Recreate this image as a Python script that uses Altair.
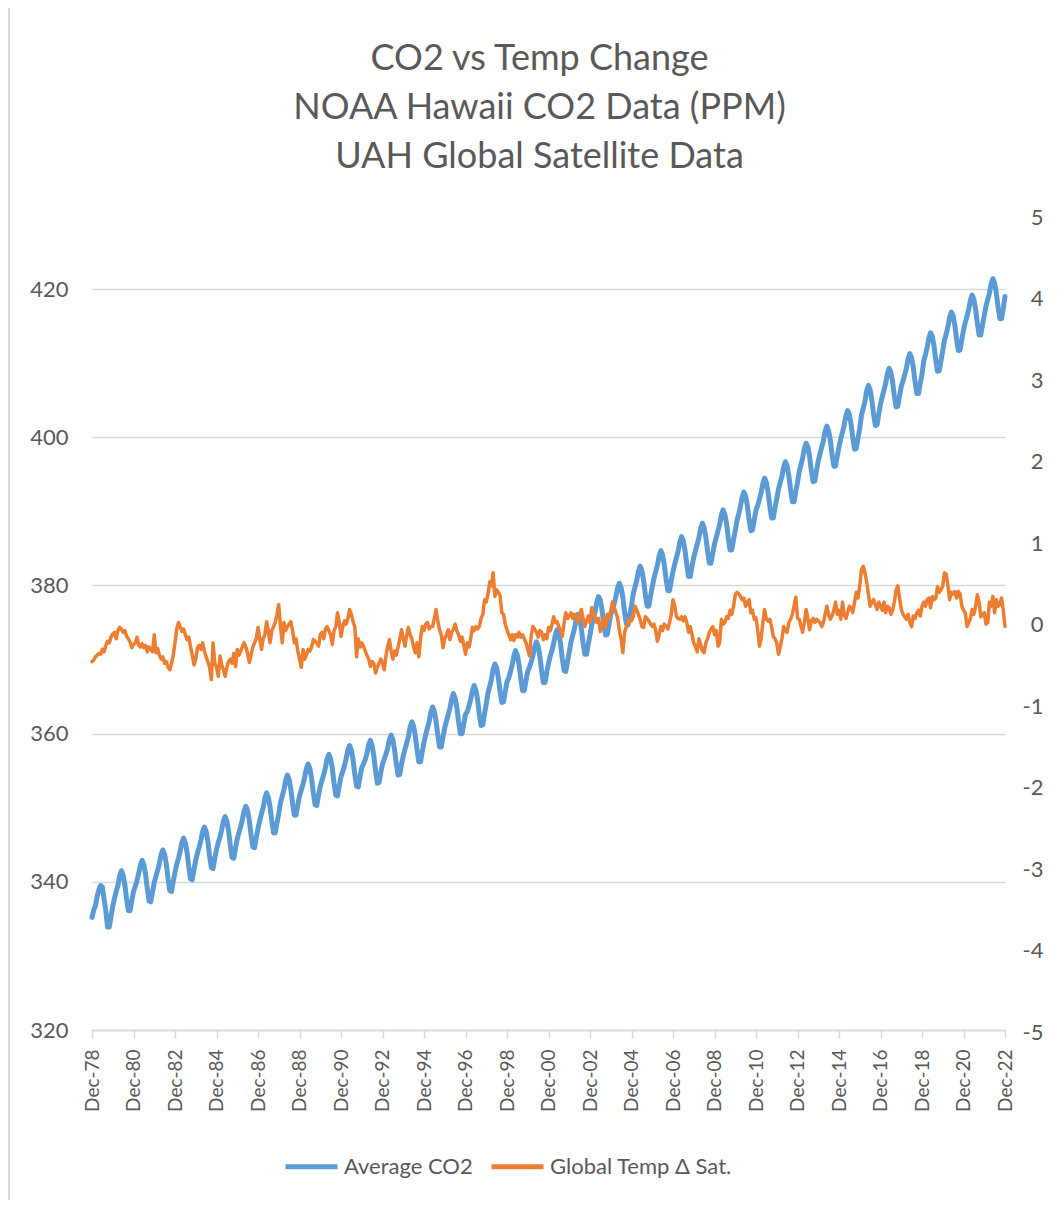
import altair as alt
import pandas as pd

# ---------------- data (monthly, Dec-1978 .. Dec-2022) ----------------
co2_start = [335.2]
co2_1979_1988 = [
    336.2, 336.8, 338.0, 338.9, 339.5, 339.3, 337.7, 336.1, 333.9, 333.9, 335.3, 336.7,
    337.8, 338.7, 339.5, 340.8, 341.5, 340.9, 339.6, 337.7, 336.1, 336.1, 337.5, 338.7,
    339.4, 340.2, 341.1, 342.3, 342.9, 342.3, 341.0, 339.0, 337.4, 337.3, 338.7, 339.9,
    340.8, 341.6, 342.5, 343.7, 344.3, 343.7, 342.4, 340.4, 338.8, 338.7, 340.1, 341.3,
    342.4, 343.2, 344.1, 345.3, 345.9, 345.3, 344.0, 342.0, 340.4, 340.3, 341.7, 342.9,
    343.9, 344.7, 345.6, 346.8, 347.4, 346.8, 345.5, 343.5, 341.9, 341.8, 343.2, 344.4,
    345.3, 346.1, 347.0, 348.2, 348.8, 348.2, 346.9, 344.9, 343.3, 343.2, 344.6, 345.8,
    346.7, 347.5, 348.4, 349.6, 350.2, 349.6, 348.3, 346.3, 344.7, 344.6, 346.0, 347.2,
    348.3, 349.2, 350.0, 351.3, 352.0, 351.4, 350.1, 348.2, 346.6, 346.6, 348.0, 349.2,
    350.7, 351.6, 352.4, 353.7, 354.4, 353.8, 352.5, 350.6, 349.0, 349.0, 350.4, 351.6,
]
co2_1989_1998 = [
    352.4, 353.2, 354.1, 355.3, 355.9, 355.3, 354.0, 352.0, 350.4, 350.3, 351.7, 352.9,
    353.7, 354.5, 355.4, 356.6, 357.2, 356.6, 355.3, 353.3, 351.7, 351.6, 353.0, 354.2,
    354.9, 355.7, 356.6, 357.8, 358.4, 357.8, 356.5, 354.5, 352.9, 352.8, 354.2, 355.4,
    355.9, 356.5, 357.3, 358.5, 359.1, 358.4, 357.0, 354.9, 353.3, 353.4, 354.8, 355.9,
    356.6, 357.3, 358.0, 359.2, 359.8, 359.2, 357.8, 355.9, 354.4, 354.5, 355.9, 357.0,
    357.9, 358.8, 359.6, 360.9, 361.6, 361.0, 359.7, 357.8, 356.2, 356.2, 357.6, 358.8,
    359.9, 360.8, 361.6, 362.9, 363.6, 363.0, 361.7, 359.8, 358.2, 358.2, 359.6, 360.8,
    361.7, 362.6, 363.4, 364.7, 365.4, 364.8, 363.5, 361.6, 360.0, 360.0, 361.4, 362.6,
    363.0, 363.8, 364.6, 365.8, 366.5, 365.9, 364.6, 362.6, 361.1, 361.2, 362.7, 364.0,
    365.5, 366.4, 367.3, 368.7, 369.4, 368.9, 367.6, 365.7, 364.2, 364.3, 365.7, 367.0,
]
co2_1999_2008 = [
    367.5, 368.4, 369.2, 370.5, 371.2, 370.6, 369.3, 367.4, 365.8, 365.8, 367.2, 368.4,
    369.0, 369.7, 370.5, 371.7, 372.4, 371.8, 370.5, 368.5, 366.9, 366.9, 368.3, 369.5,
    370.5, 371.3, 372.2, 373.4, 374.0, 373.4, 372.1, 370.1, 368.5, 368.4, 369.8, 371.0,
    372.4, 373.3, 374.1, 375.4, 376.1, 375.5, 374.2, 372.3, 370.7, 370.7, 372.1, 373.3,
    374.7, 375.6, 376.5, 377.8, 378.5, 378.0, 376.7, 374.8, 373.3, 373.4, 374.8, 376.1,
    376.8, 377.6, 378.5, 379.7, 380.3, 379.7, 378.4, 376.4, 374.8, 374.7, 376.1, 377.3,
    378.9, 379.8, 380.6, 381.9, 382.6, 382.0, 380.7, 378.8, 377.2, 377.2, 378.6, 379.8,
    381.0, 381.9, 382.7, 384.0, 384.7, 384.1, 382.8, 380.9, 379.3, 379.3, 380.7, 381.9,
    382.9, 383.8, 384.6, 385.9, 386.6, 386.0, 384.7, 382.8, 381.2, 381.2, 382.6, 383.8,
    384.7, 385.6, 386.4, 387.7, 388.4, 387.8, 386.5, 384.6, 383.0, 383.0, 384.4, 385.6,
]
co2_2009_2018 = [
    386.5, 387.4, 388.2, 389.5, 390.2, 389.6, 388.3, 386.4, 384.8, 384.8, 386.2, 387.4,
    388.8, 389.7, 390.6, 391.9, 392.6, 392.1, 390.8, 388.9, 387.4, 387.5, 388.9, 390.2,
    390.8, 391.7, 392.5, 393.8, 394.5, 393.9, 392.6, 390.7, 389.1, 389.1, 390.5, 391.7,
    393.0, 393.9, 394.7, 396.0, 396.7, 396.1, 394.8, 392.9, 391.3, 391.3, 392.7, 393.9,
    395.4, 396.3, 397.2, 398.5, 399.2, 398.7, 397.4, 395.5, 394.0, 394.1, 395.5, 396.8,
    397.8, 398.7, 399.5, 400.8, 401.5, 400.9, 399.6, 397.7, 396.1, 396.1, 397.5, 398.7,
    399.8, 400.7, 401.6, 402.9, 403.6, 403.1, 401.8, 399.9, 398.4, 398.5, 399.9, 401.2,
    403.0, 403.9, 404.8, 406.3, 407.0, 406.4, 405.0, 403.1, 401.6, 401.7, 403.2, 404.5,
    405.5, 406.4, 407.3, 408.6, 409.3, 408.8, 407.5, 405.6, 404.1, 404.2, 405.6, 406.9,
    407.6, 408.5, 409.3, 410.6, 411.3, 410.7, 409.4, 407.5, 405.9, 405.9, 407.3, 408.5,
]
co2_2019_2022 = [
    410.3, 411.2, 412.1, 413.4, 414.1, 413.6, 412.3, 410.4, 408.9, 409.0, 410.4, 411.7,
    413.1, 414.0, 414.9, 416.2, 416.9, 416.4, 415.1, 413.2, 411.7, 411.8, 413.2, 414.5,
    415.5, 416.4, 417.2, 418.5, 419.2, 418.6, 417.3, 415.4, 413.8, 413.8, 415.2, 416.4,
    417.7, 418.6, 419.4, 420.7, 421.4, 420.8, 419.5, 417.6, 416.0, 416.0, 417.4, 419.0,
]

temp_start = [-0.48]
temp_1979_1988 = [
    -0.46, -0.42, -0.40, -0.38, -0.39, -0.33, -0.36, -0.28, -0.23, -0.25, -0.18, -0.14,
    -0.12, -0.20, -0.10, -0.06, -0.08, -0.12, -0.10, -0.17, -0.20, -0.24, -0.31, -0.27,
    -0.25, -0.18, -0.28, -0.30, -0.26, -0.31, -0.28, -0.36, -0.30, -0.33, -0.36, -0.15,
    -0.37, -0.32, -0.40, -0.45, -0.42, -0.50, -0.48, -0.55, -0.58, -0.50, -0.40, -0.25,
    -0.08, 0.00, -0.05, -0.11, -0.08, -0.15, -0.21, -0.18, -0.30, -0.40, -0.52, -0.45,
    -0.31, -0.28, -0.33, -0.25, -0.35, -0.42, -0.48, -0.55, -0.70, -0.25, -0.50, -0.55,
    -0.66, -0.41, -0.52, -0.58, -0.66, -0.55, -0.48, -0.45, -0.50, -0.38, -0.54, -0.33,
    -0.40, -0.35, -0.30, -0.25, -0.30, -0.38, -0.49, -0.40, -0.30, -0.25, -0.20, -0.06,
    -0.20, -0.33, -0.20, -0.15, 0.01, -0.10, -0.25, -0.10, -0.05, 0.00, 0.10, 0.22,
    -0.05, -0.25, 0.00, -0.10, -0.05, -0.02, 0.01, -0.10, -0.25, -0.20, -0.35, -0.45,
]
temp_1989_1998 = [
    -0.55, -0.33, -0.45, -0.40, -0.33, -0.35, -0.30, -0.21, -0.23, -0.25, -0.29, -0.15,
    -0.12, -0.20, -0.08, -0.05, -0.10, -0.15, -0.27, -0.10, -0.05, 0.12, 0.00, -0.17,
    -0.05, 0.02, -0.02, 0.05, 0.16, 0.10, 0.01, -0.05, -0.42, -0.20, -0.30, -0.25,
    -0.29, -0.35, -0.40, -0.45, -0.54, -0.48, -0.50, -0.62, -0.55, -0.50, -0.45, -0.50,
    -0.58, -0.40, -0.30, -0.21, -0.35, -0.45, -0.35, -0.40, -0.30, -0.20, -0.09, -0.20,
    -0.29, -0.15, -0.06, -0.15, -0.20, -0.30, -0.37, -0.25, -0.42, -0.20, -0.05, -0.10,
    -0.02, 0.00, -0.08, -0.05, -0.05, 0.05, 0.16, 0.02, -0.09, -0.15, -0.31, -0.20,
    -0.15, -0.09, -0.21, -0.12, -0.08, -0.02, -0.10, -0.15, -0.23, -0.18, -0.28, -0.39,
    -0.25, -0.30, -0.20, -0.06, -0.10, -0.05, -0.08, -0.05, 0.05, 0.10, 0.28, 0.25,
    0.35, 0.50, 0.45, 0.61, 0.32, 0.40, 0.37, 0.33, 0.12, 0.10, -0.02, -0.09,
]
temp_1999_2008 = [
    -0.15, -0.21, -0.15, -0.22, -0.15, -0.18, -0.12, -0.18, -0.15, -0.20, -0.25, -0.33,
    -0.41, -0.15, -0.05, -0.08, -0.12, -0.18, -0.10, -0.12, -0.21, -0.15, -0.20, -0.06,
    -0.10, -0.02, 0.07, 0.00, 0.01, -0.05, -0.10, -0.17, 0.00, 0.12, 0.05, 0.08,
    0.12, 0.05, 0.10, 0.07, 0.00, 0.10, 0.16, 0.05, -0.05, 0.02, 0.08, 0.00,
    0.18, 0.12, 0.07, 0.00, 0.05, -0.11, -0.02, 0.05, -0.06, 0.10, 0.05, 0.15,
    0.25, 0.18, 0.12, 0.05, -0.10, -0.20, -0.37, -0.12, -0.05, 0.00, 0.05, 0.02,
    0.07, 0.20, 0.16, 0.10, 0.04, -0.05, -0.06, 0.07, 0.05, 0.02, -0.02, -0.05,
    -0.02, -0.10, -0.23, -0.15, -0.05, -0.10, -0.02, -0.05, -0.08, 0.00, 0.10, 0.28,
    0.20, 0.07, 0.05, 0.04, 0.07, 0.02, 0.07, 0.00, -0.12, -0.05, -0.15, -0.25,
    -0.30, -0.36, -0.20, -0.27, -0.35, -0.37, -0.25, -0.20, -0.12, -0.08, -0.05, -0.15,
]
temp_2009_2018 = [
    -0.10, -0.29, -0.25, 0.04, -0.02, 0.00, 0.07, 0.05, 0.15, 0.10, 0.20, 0.34,
    0.37, 0.35, 0.32, 0.28, 0.30, 0.20, 0.25, 0.28, 0.12, 0.15, 0.04, 0.06,
    -0.10, -0.29, -0.20, 0.00, 0.16, 0.04, 0.02, 0.04, -0.05, -0.17, -0.20, -0.25,
    -0.39, -0.30, -0.20, -0.05, -0.10, -0.12, 0.00, 0.04, 0.10, 0.20, 0.31, 0.05,
    0.04, -0.05, -0.12, 0.00, 0.16, 0.05, -0.09, 0.02, 0.05, 0.00, 0.04, 0.02,
    0.00, -0.05, 0.00, 0.10, 0.20, 0.10, 0.04, 0.08, 0.15, 0.25, 0.10, 0.15,
    0.04, 0.25, 0.10, 0.05, 0.12, 0.20, 0.18, 0.12, 0.25, 0.37, 0.30, 0.45,
    0.65, 0.69, 0.61, 0.50, 0.35, 0.20, 0.25, 0.28, 0.22, 0.16, 0.25, 0.20,
    0.15, 0.25, 0.12, 0.20, 0.18, 0.10, 0.15, 0.25, 0.40, 0.45, 0.30, 0.16,
    0.10, 0.07, 0.04, 0.10, 0.00, -0.05, 0.08, 0.05, 0.12, 0.15, 0.08, 0.20,
]
temp_2019_2022 = [
    0.25, 0.20, 0.28, 0.30, 0.18, 0.32, 0.28, 0.30, 0.44, 0.37, 0.40, 0.45,
    0.61, 0.59, 0.45, 0.28, 0.37, 0.35, 0.38, 0.30, 0.38, 0.35, 0.20, 0.15,
    0.12, -0.05, 0.00, 0.05, 0.16, 0.10, 0.20, 0.34, 0.25, 0.07, 0.10, 0.12,
    -0.02, 0.00, 0.25, 0.20, 0.32, 0.12, 0.28, 0.20, 0.22, 0.30, 0.15, -0.05,
]

series_names = ["Average CO2", "Global Temp Δ Sat."]
series_colors = ["#5B9BD5", "#ED7D31"]
title_lines = ["CO2 vs Temp Change", "NOAA Hawaii CO2 Data (PPM)", "UAH Global Satellite Data"]
left_ticks = [320, 340, 360, 380, 400, 420]
right_ticks = [-5, -4, -3, -2, -1, 0, 1, 2, 3, 4, 5]
tick_years = list(range(1978, 2023, 2))

co2 = co2_start + co2_1979_1988 + co2_1989_1998 + co2_1999_2008 + co2_2009_2018 + co2_2019_2022
temp = temp_start + temp_1979_1988 + temp_1989_1998 + temp_1999_2008 + temp_2009_2018 + temp_2019_2022
months = pd.date_range("1978-12-01", periods=len(co2), freq="MS").strftime("%Y-%m-%d").tolist()

df_co2 = pd.DataFrame({"date": months, "value": co2, "series": series_names[0]})
df_temp = pd.DataFrame({"date": months, "value": temp, "series": series_names[1]})

FONT = "Lato"
GREY = "#595959"
LIGHT = "#d9d9d9"


def dt(y):
    return alt.DateTime(year=y, month=12, date=1, utc=True)


x_axis = alt.Axis(
    values=[dt(y) for y in tick_years],
    labelExpr="utcFormat(datum.value, '%b-%y')",
    labelAngle=-90, labelFont=FONT, labelFontSize=19, labelColor=GREY,
    tickSize=8, tickColor=LIGHT, tickWidth=1.5, domainColor=LIGHT, domainWidth=1.5,
    labelPadding=11, grid=False, title=None, labelOverlap=False,
)
x_enc = alt.X("date:T", scale=alt.Scale(type="utc", domain=[dt(1978), dt(2022)]), axis=x_axis)

color_enc = alt.Color(
    "series:N",
    scale=alt.Scale(domain=series_names, range=series_colors),
    legend=alt.Legend(
        orient="none", legendX=191, legendY=923, direction="horizontal", title=None,
        symbolType="stroke", symbolSize=2704, symbolStrokeWidth=5,
        labelFont=FONT, labelFontSize=22, labelColor=GREY, labelOffset=4, labelLimit=0,
        columnPadding=8, padding=0,
    ),
)

left = alt.Chart(df_co2).mark_line(strokeWidth=5, strokeJoin="round", strokeCap="round").encode(
    x=x_enc,
    y=alt.Y("value:Q", scale=alt.Scale(domain=[320, 430], nice=False, zero=False),
            axis=alt.Axis(values=left_ticks, grid=True, gridColor=LIGHT, gridWidth=1.5,
                          domain=False, ticks=False, labelPadding=24, labelFont=FONT,
                          labelFontSize=22, labelColor=GREY, title=None)),
    color=color_enc,
)

right = alt.Chart(df_temp).mark_line(strokeWidth=3.5, strokeJoin="round", strokeCap="round").encode(
    x=x_enc,
    y=alt.Y("value:Q", scale=alt.Scale(domain=[-5, 5], nice=False, zero=False),
            axis=alt.Axis(orient="right", values=right_ticks, grid=False, domain=False,
                          ticks=False, labelAlign="right", labelPadding=38, labelOffset=2,
                          labelExpr="datum.value < 0 ? '-' + abs(datum.value) : '' + datum.value",
                          labelFont=FONT, labelFontSize=22, labelColor=GREY, title=None)),
    color=color_enc,
)

# light chart-area frame line on the left edge
frame = alt.Chart(pd.DataFrame({"k": [0]})).mark_rule(color=LIGHT, strokeWidth=2).encode(
    x=alt.value(-83), y=alt.value(-207), y2=alt.value(985)
)

chart = alt.layer(frame, left, right).resolve_scale(y="independent").properties(
    width=913, height=815,
    autosize=alt.AutoSizeParams(type="none"),
    padding={"left": 84, "top": 207, "right": 45, "bottom": 170},
    title=alt.TitleParams(text=title_lines, font=FONT, fontSize=36, fontWeight="normal",
                          color=GREY, anchor="middle", lineHeight=49, offset=-169, dx=-9),
    background="white",
).configure_view(strokeWidth=0)

chart.save("out.html", embed_options={"renderer": "svg", "actions": False})
